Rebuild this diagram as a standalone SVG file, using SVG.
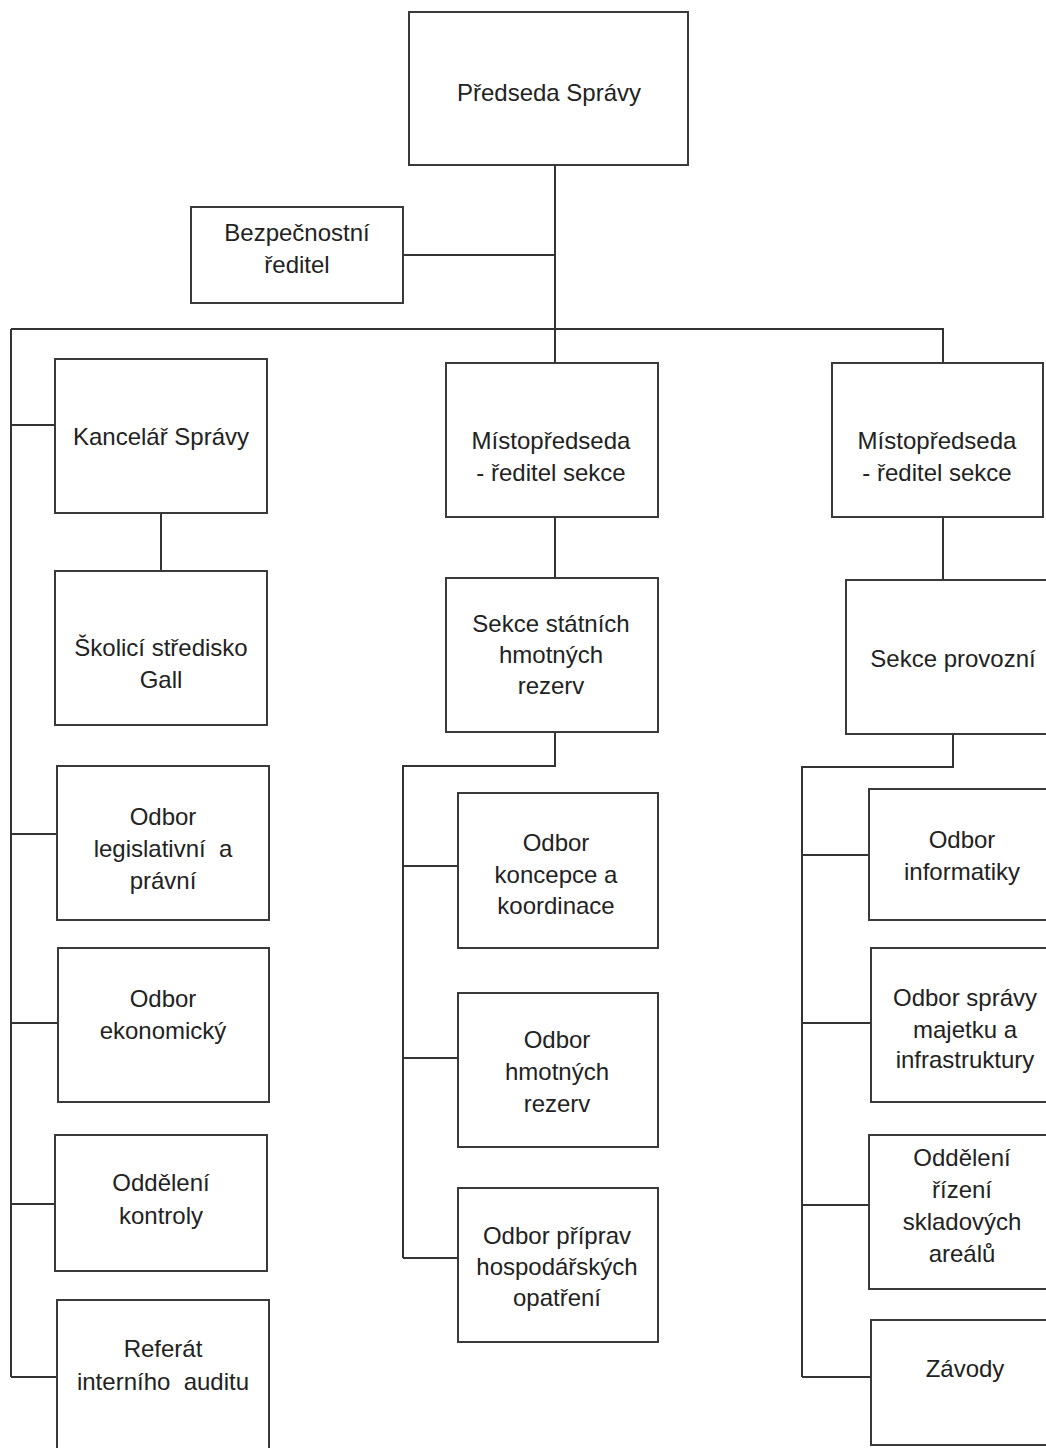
<svg xmlns="http://www.w3.org/2000/svg" width="1046" height="1448" viewBox="0 0 1046 1448">
<style>
.box{fill:#fff;stroke:#3a3a3a;stroke-width:2}
.ln{fill:none;stroke:#333;stroke-width:2}
text{font-family:"Liberation Sans",Arial,sans-serif;font-size:24px;fill:#222;text-anchor:middle}
.pre{white-space:pre}
</style>
<rect width="1046" height="1448" fill="#fff"/>
<g id="connectors" class="ln">
<path d="M555 165V363"/>
<path d="M403 255H555"/>
<path d="M11 329H943V363"/>
<path d="M11 329V1377"/>
<path d="M11 425H55"/>
<path d="M161 513V571"/>
<path d="M11 834H57"/>
<path d="M11 1023H58"/>
<path d="M11 1204H55"/>
<path d="M11 1377H57"/>
<path d="M555 517V578"/>
<path d="M555 732V766H403V1258"/>
<path d="M403 866H458"/>
<path d="M403 1058H458"/>
<path d="M403 1258H458"/>
<path d="M943 517V580"/>
<path d="M953 734V767H802V1377"/>
<path d="M802 855H869"/>
<path d="M802 1023H871"/>
<path d="M802 1205H869"/>
<path d="M802 1377H871"/>
</g>
<g id="predseda"><rect class="box" x="409" y="12" width="279" height="153"/><text x="549" y="101">Předseda Správy</text></g>
<g id="bezpecnostni"><rect class="box" x="191" y="207" width="212" height="96"/><text x="297" y="241">Bezpečnostní</text><text x="297" y="273">ředitel</text></g>
<g id="kancelar"><rect class="box" x="55" y="359" width="212" height="154"/><text x="161" y="445">Kancelář Správy</text></g>
<g id="skolici"><rect class="box" x="55" y="571" width="212" height="154"/><text x="161" y="656">Školicí středisko</text><text x="161" y="688">Gall</text></g>
<g id="legislativni"><rect class="box" x="57" y="766" width="212" height="154"/><text x="163" y="825">Odbor</text><text class="pre" x="163" y="857">legislativní  a</text><text x="163" y="889">právní</text></g>
<g id="ekonomicky"><rect class="box" x="58" y="948" width="211" height="154"/><text x="163" y="1007">Odbor</text><text x="163" y="1039">ekonomický</text></g>
<g id="kontroly"><rect class="box" x="55" y="1135" width="212" height="136"/><text x="161" y="1191">Oddělení</text><text x="161" y="1224">kontroly</text></g>
<g id="audit"><rect class="box" x="57" y="1300" width="212" height="160"/><text x="163" y="1357">Referát</text><text class="pre" x="163" y="1390">interního  auditu</text></g>
<g id="mistopredseda1"><rect class="box" x="446" y="363" width="212" height="154"/><text x="551" y="449">Místopředseda</text><text x="551" y="481">- ředitel sekce</text></g>
<g id="sekce-shr"><rect class="box" x="446" y="578" width="212" height="154"/><text x="551" y="632">Sekce státních</text><text x="551" y="663">hmotných</text><text x="551" y="694">rezerv</text></g>
<g id="koncepce"><rect class="box" x="458" y="793" width="200" height="155"/><text x="556" y="851">Odbor</text><text x="556" y="883">koncepce a</text><text x="556" y="914">koordinace</text></g>
<g id="hmotnych"><rect class="box" x="458" y="993" width="200" height="154"/><text x="557" y="1048">Odbor</text><text x="557" y="1080">hmotných</text><text x="557" y="1112">rezerv</text></g>
<g id="priprav"><rect class="box" x="458" y="1188" width="200" height="154"/><text x="557" y="1244">Odbor příprav</text><text x="557" y="1275">hospodářských</text><text x="557" y="1306">opatření</text></g>
<g id="mistopredseda2"><rect class="box" x="832" y="363" width="211" height="154"/><text x="937" y="449">Místopředseda</text><text x="937" y="481">- ředitel sekce</text></g>
<g id="provozni"><rect class="box" x="846" y="580" width="220" height="154"/><text x="953" y="667">Sekce provozní</text></g>
<g id="informatiky"><rect class="box" x="869" y="789" width="200" height="131"/><text x="962" y="848">Odbor</text><text x="962" y="880">informatiky</text></g>
<g id="majetku"><rect class="box" x="871" y="948" width="200" height="154"/><text x="965" y="1006">Odbor správy</text><text x="965" y="1038">majetku a</text><text x="965" y="1068">infrastruktury</text></g>
<g id="sklady"><rect class="box" x="869" y="1135" width="200" height="154"/><text x="962" y="1166">Oddělení</text><text x="962" y="1198">řízení</text><text x="962" y="1230">skladových</text><text x="962" y="1262">areálů</text></g>
<g id="zavody"><rect class="box" x="871" y="1320" width="200" height="125"/><text x="965" y="1377">Závody</text></g>
</svg>
